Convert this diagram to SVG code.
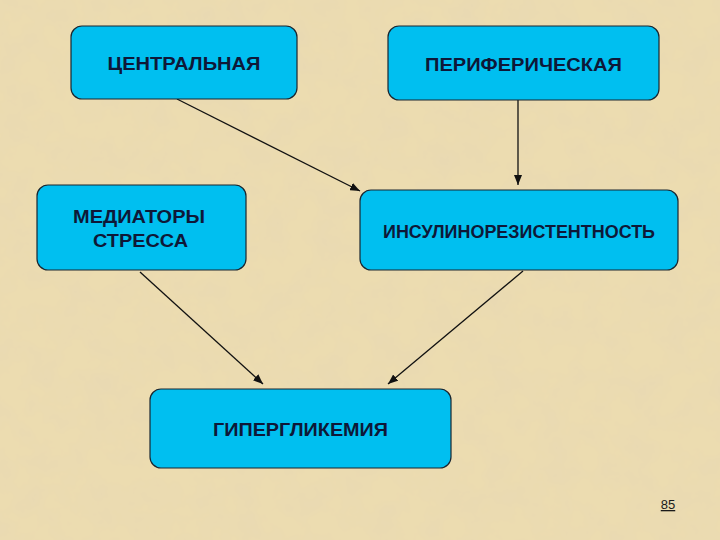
<svg xmlns="http://www.w3.org/2000/svg" width="720" height="540" viewBox="0 0 720 540">
  <defs>
    <filter id="parch" x="0" y="0" width="100%" height="100%">
      <feTurbulence type="fractalNoise" baseFrequency="0.035" numOctaves="4" seed="7" result="n"/>
      <feColorMatrix in="n" type="matrix" values="0 0 0 0 0.80  0 0 0 0 0.68  0 0 0 0 0.45  1.1 0 0 0 -0.35" result="c"/>
      <feComposite in="c" in2="SourceGraphic" operator="over"/>
    </filter>
    <marker id="ah" viewBox="0 0 10 8" refX="10" refY="4" markerWidth="10" markerHeight="8" markerUnits="userSpaceOnUse" orient="auto">
      <path d="M0,0 L10,4 L0,8 Z" fill="#111"/>
    </marker>
    <style>
      .box { fill: #00bff0; stroke: #1a2630; stroke-width: 1.2; }
      .lbl { font-family: "Liberation Sans", Arial, sans-serif; font-weight: bold; font-size: 19px; fill: #0e1838; text-anchor: middle; }
      .conn line { stroke: #111; stroke-width: 1.3; marker-end: url(#ah); }
    </style>
  </defs>
  <rect width="720" height="540" fill="#ecdcb0" filter="url(#parch)"/>

  <g class="conn" id="connectors">
    <line x1="177" y1="99" x2="360" y2="191"/>
    <line x1="518" y1="100" x2="518" y2="185"/>
    <line x1="140" y1="272" x2="263" y2="384"/>
    <line x1="523" y1="271" x2="388" y2="384"/>
  </g>

  <g id="central">
    <rect class="box" x="71" y="26" width="226" height="73" rx="11"/>
    <text class="lbl" x="184" y="70" textLength="153" lengthAdjust="spacingAndGlyphs">ЦЕНТРАЛЬНАЯ</text>
  </g>
  <g id="peripheral">
    <rect class="box" x="388" y="26" width="271" height="74" rx="11"/>
    <text class="lbl" x="523.5" y="71" textLength="197" lengthAdjust="spacingAndGlyphs">ПЕРИФЕРИЧЕСКАЯ</text>
  </g>
  <g id="mediators">
    <rect class="box" x="37" y="185" width="209" height="85" rx="11"/>
    <text class="lbl" x="139" y="223" textLength="132" lengthAdjust="spacingAndGlyphs">МЕДИАТОРЫ</text>
    <text class="lbl" x="140.5" y="247" textLength="95" lengthAdjust="spacingAndGlyphs">СТРЕССА</text>
  </g>
  <g id="insulin">
    <rect class="box" x="360" y="190" width="318" height="80" rx="11"/>
    <text class="lbl" x="519" y="238" textLength="272" lengthAdjust="spacingAndGlyphs">ИНСУЛИНОРЕЗИСТЕНТНОСТЬ</text>
  </g>
  <g id="hyper">
    <rect class="box" x="150" y="389" width="301" height="79" rx="11"/>
    <text class="lbl" x="300.5" y="436" textLength="175" lengthAdjust="spacingAndGlyphs">ГИПЕРГЛИКЕМИЯ</text>
  </g>

  <g id="page">
    <text x="668" y="509" font-family="Liberation Sans, Arial, sans-serif" font-size="13" fill="#1a1a1a" text-anchor="middle" text-decoration="underline">85</text>
  </g>
</svg>
